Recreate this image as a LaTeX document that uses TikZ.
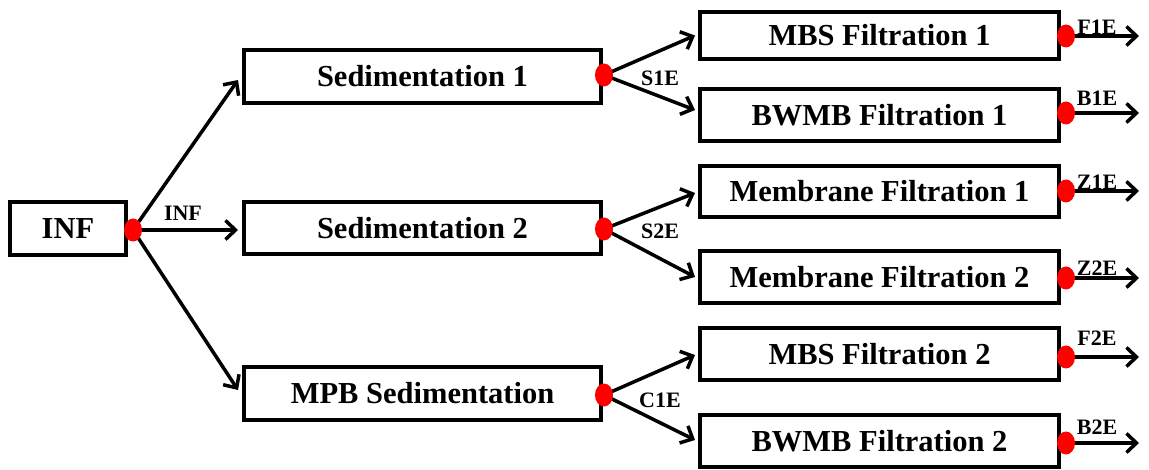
\documentclass[tikz,border=0pt]{standalone}
\usepackage{fontspec}
\setmainfont{Liberation Serif}
\usetikzlibrary{arrows.meta,calc,backgrounds,shapes.geometric}
\begin{document}
\begin{tikzpicture}[x=1pt,y=-1pt,
  box/.style={draw,line width=4pt,minimum width=357pt,minimum height=52pt,inner sep=0pt,
    font=\fontsize{30.5}{36}\selectfont\bfseries},
  fbox/.style={box,minimum width=359pt},
  dot/.style={ellipse,fill=red,draw=none,minimum width=18pt,minimum height=23pt,inner sep=0pt},
  lab/.style={font=\fontsize{22}{26}\selectfont\bfseries,inner sep=0pt},
  flow/.style={line width=3.5pt,-{Straight Barb[length=10pt,width=19pt]}}]
\useasboundingbox (0,0) rectangle (1149,470);
% boxes
\node[box,minimum width=116pt,minimum height=53pt] (inf) at (68,228.5) {INF};
\node[box,minimum height=53pt] (s1) at (422.5,76.5) {Sedimentation 1};
\node[box] (s2) at (422.5,228) {Sedimentation 2};
\node[box,minimum height=53pt] (mpb) at (422.5,393.5) {MPB Sedimentation};
\node[fbox,minimum height=47pt] (f1) at (879.5,35.5) {MBS Filtration 1};
\node[fbox] (b1) at (879.5,115) {BWMB Filtration 1};
\node[fbox,minimum height=51pt] (z1) at (879.5,191.5) {Membrane Filtration 1};
\node[fbox] (z2) at (879.5,277) {Membrane Filtration 2};
\node[fbox] (f2) at (879.5,354) {MBS Filtration 2};
\node[fbox] (b2) at (879.5,441) {BWMB Filtration 2};
% dots
\node[dot] (d0) at (133,230) {};
\node[dot] (ds1) at (604,75) {};
\node[dot] (ds2) at (604,229) {};
\node[dot] (dc1) at (604,395) {};
\node[dot] (e1) at (1066,36) {};
\node[dot] (e2) at (1066,113) {};
\node[dot] (e3) at (1066,191) {};
\node[dot] (e4) at (1066,278) {};
\node[dot] (e5) at (1066,357) {};
\node[dot] (e6) at (1066,443) {};
% free ends
\coordinate (o1) at (1139,36);
\coordinate (o2) at (1139,113);
\coordinate (o3) at (1139,191);
\coordinate (o4) at (1139,278);
\coordinate (o5) at (1139,357);
\coordinate (o6) at (1139,443);
% connectors
\begin{scope}[on background layer]
\draw[flow] (d0.center) -- ($(s1.west)+(-4,3.5)$);
\draw[flow] (d0.center) -- ($(s2.west)+(-4,2)$);
\draw[flow] (d0.center) -- ($(mpb.west)+(-4,-3.5)$);
\draw[flow] (ds1.center) -- ($(f1.west)+(-3,0)$);
\draw[flow] (ds1.center) -- ($(b1.west)+(-3,-5)$);
\draw[flow] (ds2.center) -- ($(z1.west)+(-3,1.5)$);
\draw[flow] (ds2.center) -- ($(z2.west)+(-3,0)$);
\draw[flow] (dc1.center) -- ($(f2.west)+(-3,1)$);
\draw[flow] (dc1.center) -- ($(b2.west)+(-3,-1)$);
\draw[flow] (e1.center) -- (o1);
\draw[flow] (e2.center) -- (o2);
\draw[flow] (e3.center) -- (o3);
\draw[flow] (e4.center) -- (o4);
\draw[flow] (e5.center) -- (o5);
\draw[flow] (e6.center) -- (o6);
\end{scope}
% labels
\node[lab] (lINF) at (183,213) {INF};
\node[lab] (lS1E) at (660,78) {S1E};
\node[lab] (lS2E) at (660,231) {S2E};
\node[lab] (lC1E) at (660,400) {C1E};
\node[lab] (lF1E) at (1097,27) {F1E};
\node[lab] (lB1E) at (1097,98) {B1E};
\node[lab] (lZ1E) at (1097,182) {Z1E};
\node[lab] (lZ2E) at (1097,268) {Z2E};
\node[lab] (lF2E) at (1097,338) {F2E};
\node[lab] (lB2E) at (1097,427) {B2E};
\end{tikzpicture}
\end{document}
